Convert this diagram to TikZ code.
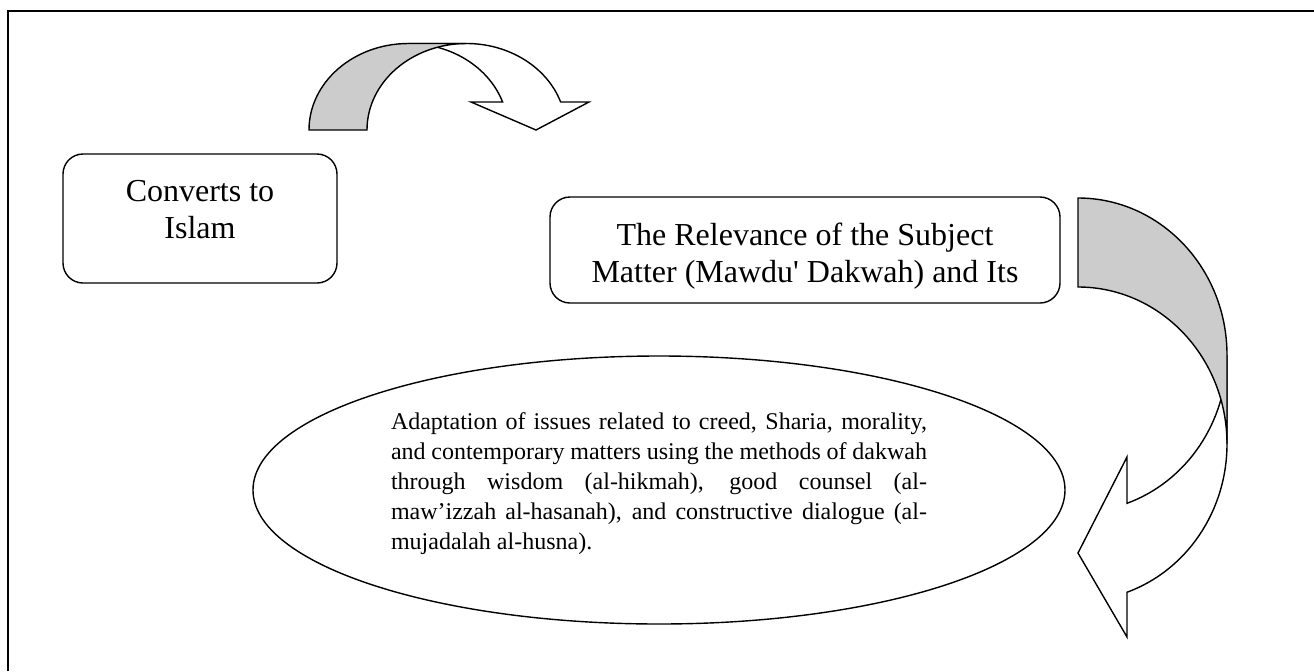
\documentclass[tikz,border=0pt]{standalone}
\usepackage{fontspec}
\setmainfont{Liberation Serif}
\usetikzlibrary{shapes.geometric}
\tikzset{
    frameline/.style={line width=0.8pt},
    roundbox/.style={draw, line width=0.7pt, rounded corners=10pt, inner sep=0pt},
    ovalbox/.style={draw, ellipse, line width=0.7pt, inner sep=0pt},
    labeltext/.style={font=\fontsize{16}{18.5}\selectfont, align=center, inner sep=0pt},
    bodytext/.style={font=\fontsize{12}{15}\selectfont, text width=268pt, align=justify, inner sep=0pt},
    shadepart/.style={draw, fill=gray!40, line width=0.7pt, line join=miter},
    lightpart/.style={draw, fill=white, line width=0.7pt, line join=miter},
}

\begin{document}
\begin{tikzpicture}[x=0.5pt, y=-0.5pt]
\useasboundingbox (0,0) rectangle (1314,671);
\draw[frameline] (8,671) -- (8,11) -- (1314,11);

\node[roundbox, minimum width=137pt, minimum height=64.5pt] (convertbox) at (200,218.5) {};
\node[labeltext, anchor=north] (converttext) at (200,180) {Converts to\\Islam};

\node[roundbox, minimum width=255pt, minimum height=53pt] (relevbox) at (805,250) {};
\node[labeltext, anchor=north] (relevtext) at (805,223) {The Relevance of the Subject\\Matter (Mawdu\textquotesingle{} Dakwah) and Its};

\node[ovalbox, minimum width=406pt, minimum height=134pt] (adaptoval) at (659,490) {};
\node[bodytext, anchor=north] (adapttext) at (659,412) {Adaptation of issues related to creed, Sharia, morality,\linebreak
and contemporary matters using the methods of dakwah\linebreak
through wisdom (al-hikmah), good counsel (al-\linebreak
maw’izzah al-hasanah), and constructive dialogue (al-\linebreak
mujadalah al-husna).};

% top curved arrow
\filldraw[lightpart] (466.5,43.5) arc[start angle=270, end angle=341.1, x radius=99.5, y radius=86.5]
    -- (589,102) -- (536,130) -- (471,102) -- (502.6,102)
    arc[start angle=341.1, end angle=270, x radius=99.5, y radius=86.5] -- cycle;
\filldraw[shadepart] (309,130) arc[start angle=180, end angle=270, x radius=99.5, y radius=86.5]
    -- (466.5,43.5) arc[start angle=270, end angle=180, x radius=99.5, y radius=86.5] -- cycle;

% right curved arrow
\filldraw[lightpart] (1227,444) arc[start angle=0, end angle=70.8, x radius=149, y radius=157]
    -- (1127,637) -- (1078,553) -- (1127,457) -- (1127,503.3)
    arc[start angle=70.8, end angle=0, x radius=149, y radius=157] -- cycle;
\filldraw[shadepart] (1078,198) arc[start angle=270, end angle=360, x radius=149, y radius=157]
    -- (1227,444) arc[start angle=360, end angle=270, x radius=149, y radius=157] -- cycle;
\end{tikzpicture}
\end{document}
